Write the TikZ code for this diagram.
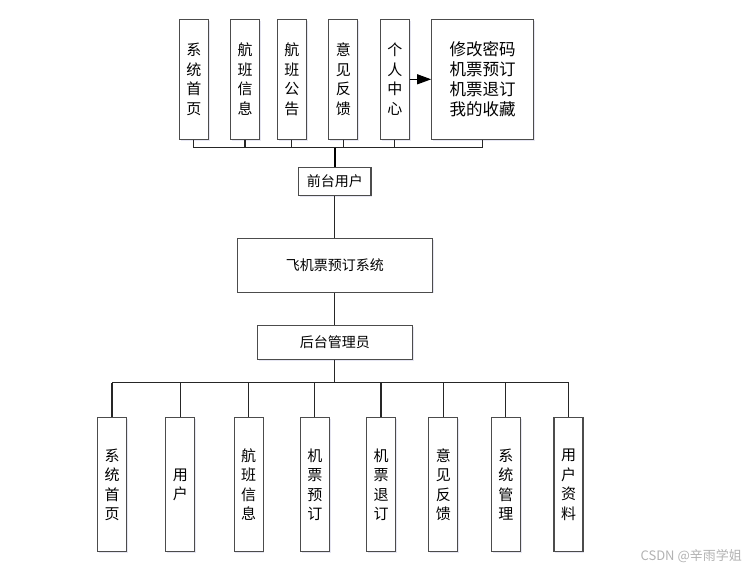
\documentclass[tikz,border=0pt]{standalone}
\usepackage{fontspec}
\setmainfont{Noto Sans CJK SC}
\usetikzlibrary{arrows.meta,shadows}
\tikzset{
  box/.style={draw=black!70, line width=1.1pt, fill=white, inner sep=0pt, align=center,
    drop shadow={shadow xshift=1.2pt, shadow yshift=-1.2pt, fill=blue!30!gray, opacity=0.15}},
  vbox/.style={box, minimum width=29pt, font=\fontsize{15}{19.5}\selectfont},
  topv/.style={vbox, minimum height=120pt},
  botv/.style={vbox, minimum height=134pt},
  hbox/.style={box, font=\fontsize{14}{16}\selectfont},
  conn/.style={draw=black!85, line width=1.1pt},
  thick conn/.style={draw=black, line width=2pt},
}
\begin{document}
\begin{tikzpicture}[x=1pt,y=-1pt]
\useasboundingbox (0,0) rectangle (750,570);
% top row
\node[topv] (t1) at (193.8,79.3) {系\\统\\首\\页};
\node[topv] (t2) at (245.0,79.3) {航\\班\\信\\息};
\node[topv] (t3) at (291.8,79.3) {航\\班\\公\\告};
\node[topv] (t4) at (343.3,79.3) {意\\见\\反\\馈};
\node[topv] (t5) at (394.8,79.3) {个\\人\\中\\心};
\node[box, minimum width=101.6pt, minimum height=120pt, font=\fontsize{16.5}{20}\selectfont] (t6) at (482.5,79.3) {修改密码\\机票预订\\机票退订\\我的收藏};
\draw[draw=black, line width=1.1pt, -{Triangle[length=14pt,width=10pt]}] (t5.east) -- (t6.west);
% middle
\node[hbox, minimum width=72.3pt, minimum height=28.4pt] (front) at (334.8,181.5) {前台用户};
\node[hbox, minimum width=195pt, minimum height=53.7pt] (sys) at (334.8,265.2) {飞机票预订系统};
\node[hbox, minimum width=155pt, minimum height=33.6pt] (back) at (334.8,342.5) {后台管理员};
\coordinate (busT) at (334.8,147.7);
\coordinate (busB) at (334.8,382.7);
% bottom row
\node[botv] (b1) at (112.0,484.8) {系\\统\\首\\页};
\node[botv] (b2) at (180.3,484.8) {用\\户};
\node[botv] (b3) at (248.7,484.8) {航\\班\\信\\息};
\node[botv] (b4) at (314.8,484.8) {机\\票\\预\\订};
\node[botv] (b5) at (381.0,484.8) {机\\票\\退\\订};
\node[botv] (b6) at (443.3,484.8) {意\\见\\反\\馈};
\node[botv] (b7) at (505.8,484.8) {系\\统\\管\\理};
\node[botv] (b8) at (568.5,484.8) {用\\户\\资\\料};
% top bus
\draw[conn] (t1.south |- busT) -- (t6.south |- busT);
\foreach \n in {t1,t2,t3,t4,t5,t6} \draw[conn] (\n.south) -- (\n.south |- busT);
\draw[thick conn] (busT) -- (front.north);
\draw[conn] (front.south) -- (sys.north);
\draw[conn] (sys.south) -- (back.north);
\draw[conn] (back.south) -- (busB);
% bottom bus
\draw[conn] (b1.north |- busB) -- (b8.north |- busB);
\foreach \n in {b1,b2,b3,b4,b5,b6,b7,b8} \draw[conn] (\n.north |- busB) -- (\n.north);
% watermark
\node[text=black!30, font=\fontsize{13}{15}\selectfont, anchor=east, inner sep=0pt] (wm) at (742,556) {CSDN @辛雨学姐};
\end{tikzpicture}
\end{document}
